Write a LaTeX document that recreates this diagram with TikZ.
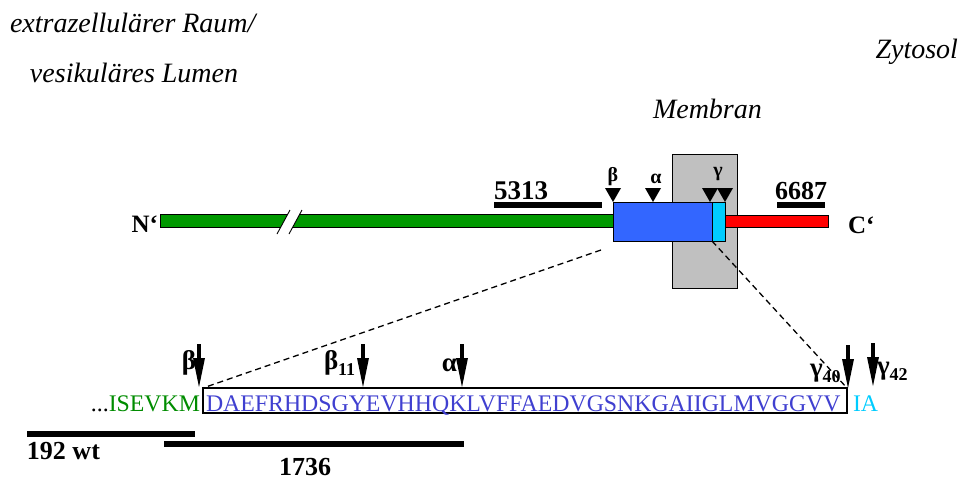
\documentclass[tikz,border=0pt]{standalone}
\usepackage{fontspec}
\setmainfont{Liberation Serif}[ItalicFont={Liberation Serif Italic}, BoldFont={Liberation Serif Bold}]
\definecolor{greenA}{HTML}{009900}
\definecolor{greenT}{HTML}{008C00}
\definecolor{blueA}{HTML}{3366FF}
\definecolor{cyanA}{HTML}{00CCFF}
\definecolor{redA}{HTML}{FF0000}
\definecolor{grayA}{HTML}{C0C0C0}
\definecolor{seqblue}{HTML}{4040D0}
\newcommand{\gsub}[2]{#1{\fontsize{18}{18}\selectfont\raisebox{-6pt}{#2}}}
\begin{document}
\begin{tikzpicture}[x=1pt,y=-1pt,
  lbl/.style={inner sep=0pt, outer sep=0pt},
  itlab/.style={lbl, font=\fontsize{28}{30}\selectfont\itshape, anchor=base west},
  boldlab/.style={lbl, font=\fontsize{26}{28}\selectfont\bfseries, anchor=base west},
  greeksmall/.style={lbl, font=\fontsize{20}{21}\selectfont\bfseries, anchor=base},
  greekbig/.style={lbl, font=\fontsize{27}{28}\selectfont\bfseries},
  seqtext/.style={lbl, font=\fontsize{23.8}{26}\selectfont},
  barbox/.style={draw=black, line width=0.8pt, inner sep=0pt, outer sep=0pt, anchor=north west},
  dashline/.style={draw=black, line width=1.3pt, dash pattern=on 6pt off 4pt},
  marker/.pic={\fill (-8,0) -- (8,0) -- (0,14) -- cycle;},
  cutarrow/.pic={\fill (-2,0) rectangle (2,16); \fill (-6,14) -- (6,14) -- (0,43) -- cycle;}
]
\useasboundingbox (0,0) rectangle (962,480);

% region labels
\node[itlab] (ext) at (10,32) {extrazellulärer Raum/};
\node[itlab] (ves) at (30,82) {vesikuläres Lumen};
\node[itlab, anchor=base east] (zyt) at (958,58) {Zytosol};
\node[itlab] (mem) at (653,118) {Membran};

% membrane
\node[barbox, fill=grayA, minimum width=65pt, minimum height=134pt] (membr) at (672,154) {};

% protein bars
\node[barbox, fill=greenA, minimum width=453pt, minimum height=13pt] (green) at (160,214) {};
\node[barbox, fill=redA, minimum width=103pt, minimum height=12pt] (red) at (725,215) {};
\node[barbox, fill=blueA, minimum width=99pt, minimum height=39pt] (blue) at (613,202) {};
\node[barbox, fill=cyanA, minimum width=13pt, minimum height=39pt] (cyan) at (712,202) {};

% break in green bar
\fill[white] (277,234) -- (290,210) -- (302,210) -- (289,234) -- cycle;
\draw[line width=0.9pt] (277,234) -- (290,210);
\draw[line width=0.9pt] (289,234) -- (302,210);

% termini
\node[lbl, font=\fontsize{25}{26}\selectfont\bfseries, anchor=base east] (nterm) at (158,232) {N‘};
\node[lbl, font=\fontsize{25}{26}\selectfont\bfseries, anchor=base west] (cterm) at (848,233) {C‘};

% antibodies top
\node[boldlab, font=\fontsize{27}{28}\selectfont\bfseries] (t5313) at (494,199) {5313};
\fill (494,202) rectangle (602,208);
\node[boldlab] (t6687) at (775,199) {6687};
\fill (777,202) rectangle (825,208);

% cleavage markers top
\pic at (613,188) {marker};
\pic at (653,188) {marker};
\pic at (710,188) {marker};
\pic at (725,188) {marker};
\node[greeksmall] (bsm) at (613,181) {β};
\node[greeksmall] (asm) at (656,183) {α};
\node[greeksmall] (gsm) at (718,176) {γ};

% sequence
\node[draw=black, line width=2pt, inner sep=0pt, outer sep=0pt, anchor=north west,
      minimum width=644pt, minimum height=25pt] (seqbox) at (203,388) {};
\node[seqtext, anchor=base west, text=seqblue] (abeta) at (206,411) {DAEFRHDSGYEVHHQKLVFFAEDVGSNKGAIIGLMVGGVV};
\node[seqtext, anchor=base east, text=greenT] (nseq) at (200,411) {\textcolor{black}{...}ISEVKM};
\node[seqtext, anchor=base west, text=cyanA] (cseq) at (853,411) {IA};

% dashed zoom lines
\coordinate (zstart) at (601,250);
\draw[dashline] (zstart) -- (seqbox.north west);
\draw[dashline] (blue.south east) -- (seqbox.north east);

% cleavage arrows bottom
\pic at (199,344) {cutarrow};
\pic at (363,344) {cutarrow};
\pic at (462,344) {cutarrow};
\pic at (848,345) {cutarrow};
\pic at (873,343) {cutarrow};
\node[greekbig, anchor=base east] (bb) at (196,369) {β};
\node[greekbig, anchor=base west] (b11) at (324,369) {\gsub{β}{11}};
\node[greekbig, anchor=base east] (ab) at (457,371) {α};
\node[greekbig, anchor=base west] (g40) at (810,376) {\gsub{γ}{40}};
\node[greekbig, anchor=base west] (g42) at (877,374) {\gsub{γ}{42}};

% bottom antibody bars
\fill (27,431) rectangle (195,437);
\node[boldlab] (t192) at (27,459) {192 wt};
\fill (164,441) rectangle (464,447);
\node[boldlab, anchor=base] (t1736) at (305,475) {1736};
\end{tikzpicture}
\end{document}
